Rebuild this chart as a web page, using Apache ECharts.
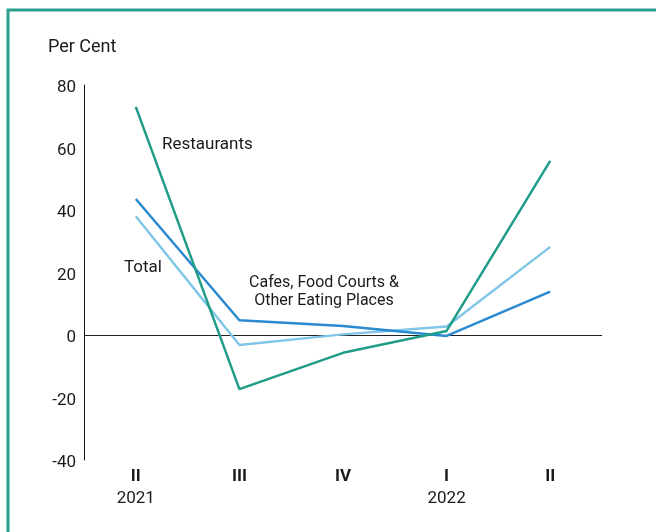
<!DOCTYPE html>
<html>
<head>
<meta charset="utf-8">
<style>
  html, body { margin: 0; padding: 0; background: #ffffff; }
  #chart { width: 656px; height: 532px; }
</style>
<script src="https://cdn.jsdelivr.net/npm/echarts@6/dist/echarts.min.js"></script>
</head>
<body>
<div id="chart"></div>
<script>
// Quarter labels and the year shown under the first quarter of each year
const quarters = ['II', 'III', 'IV', 'I', 'II'];
const years = ['2021', '', '', '2022', ''];

// Year-ended growth, per cent
const restaurants = [73.0, -17.3, -5.7, 1.3, 55.7];
const cafes = [43.5, 4.7, 2.9, -0.3, 13.9];
const total = [38.0, -3.2, 0.2, 2.7, 28.2];

const yTicks = { min: -40, max: 80, step: 20 };

const FONT = 'Roboto';
const TEAL = '#1f9d89';
const BLUE = '#2a8ad1';
const LIGHT = '#80c6e8';
const INK = '#1a1a1a';

const chart = echarts.init(document.getElementById('chart'), null, { renderer: 'canvas' });

function lineSeries(name, data, color, z) {
  return {
    name: name,
    type: 'line',
    data: data,
    symbol: 'none',
    z: z,
    lineStyle: { color: color, width: 2.5 },
    itemStyle: { color: color },
    animation: false
  };
}

const series = [
  lineSeries('Total', total, LIGHT, 3),
  lineSeries('Cafes, Food Courts & Other Eating Places', cafes, BLUE, 4),
  lineSeries('Restaurants', restaurants, TEAL, 5)
];
// zero line across the plot
series[0].markLine = {
  silent: true,
  symbol: 'none',
  label: { show: false },
  lineStyle: { color: '#222222', width: 1, type: 'solid' },
  data: [{ yAxis: 0 }],
  z: 1
};

function note(text, x, y, size, extra) {
  return {
    type: 'text', x: x, y: y, z: 10,
    style: Object.assign({
      text: text, font: size + 'px ' + FONT, fill: INK, verticalAlign: 'middle'
    }, extra || {})
  };
}

chart.setOption({
  backgroundColor: '#ffffff',
  animation: false,
  grid: { left: 84, right: 54, top: 85, bottom: 72, containLabel: false },
  xAxis: {
    type: 'category',
    data: quarters,
    boundaryGap: true,
    axisLine: { show: false },
    axisTick: { show: false },
    axisLabel: {
      margin: 6,
      formatter: function (v, i) {
        return '{q|' + v + '}\n{y|' + (years[i] || ' ') + '}';
      },
      rich: {
        q: { fontFamily: FONT, fontSize: 17, fontWeight: 'bold', color: INK, lineHeight: 22 },
        y: { fontFamily: FONT, fontSize: 17, color: INK, lineHeight: 22 }
      }
    }
  },
  yAxis: {
    type: 'value',
    min: yTicks.min,
    max: yTicks.max,
    interval: yTicks.step,
    axisLine: { show: true, lineStyle: { color: '#111111', width: 1 } },
    axisTick: { show: false },
    splitLine: { show: false },
    axisLabel: {
      margin: 8, fontFamily: FONT, fontSize: 17, color: INK,
      verticalAlign: 'top', lineHeight: 6
    }
  },
  series: series,
  graphic: [
    {
      type: 'rect',
      shape: { x: 8, y: 10, width: 700, height: 600 },
      style: { fill: 'none', stroke: '#2aa08f', lineWidth: 3 },
      silent: true
    },
    note('Per Cent', 48, 47, 18),
    note('Restaurants', 162, 145, 17),
    note('Total', 124, 268, 17),
    note('Cafes, Food Courts &', 324, 283, 16, { align: 'center' }),
    note('Other Eating Places', 324, 301, 16, { align: 'center' })
  ]
});
</script>
</body>
</html>
